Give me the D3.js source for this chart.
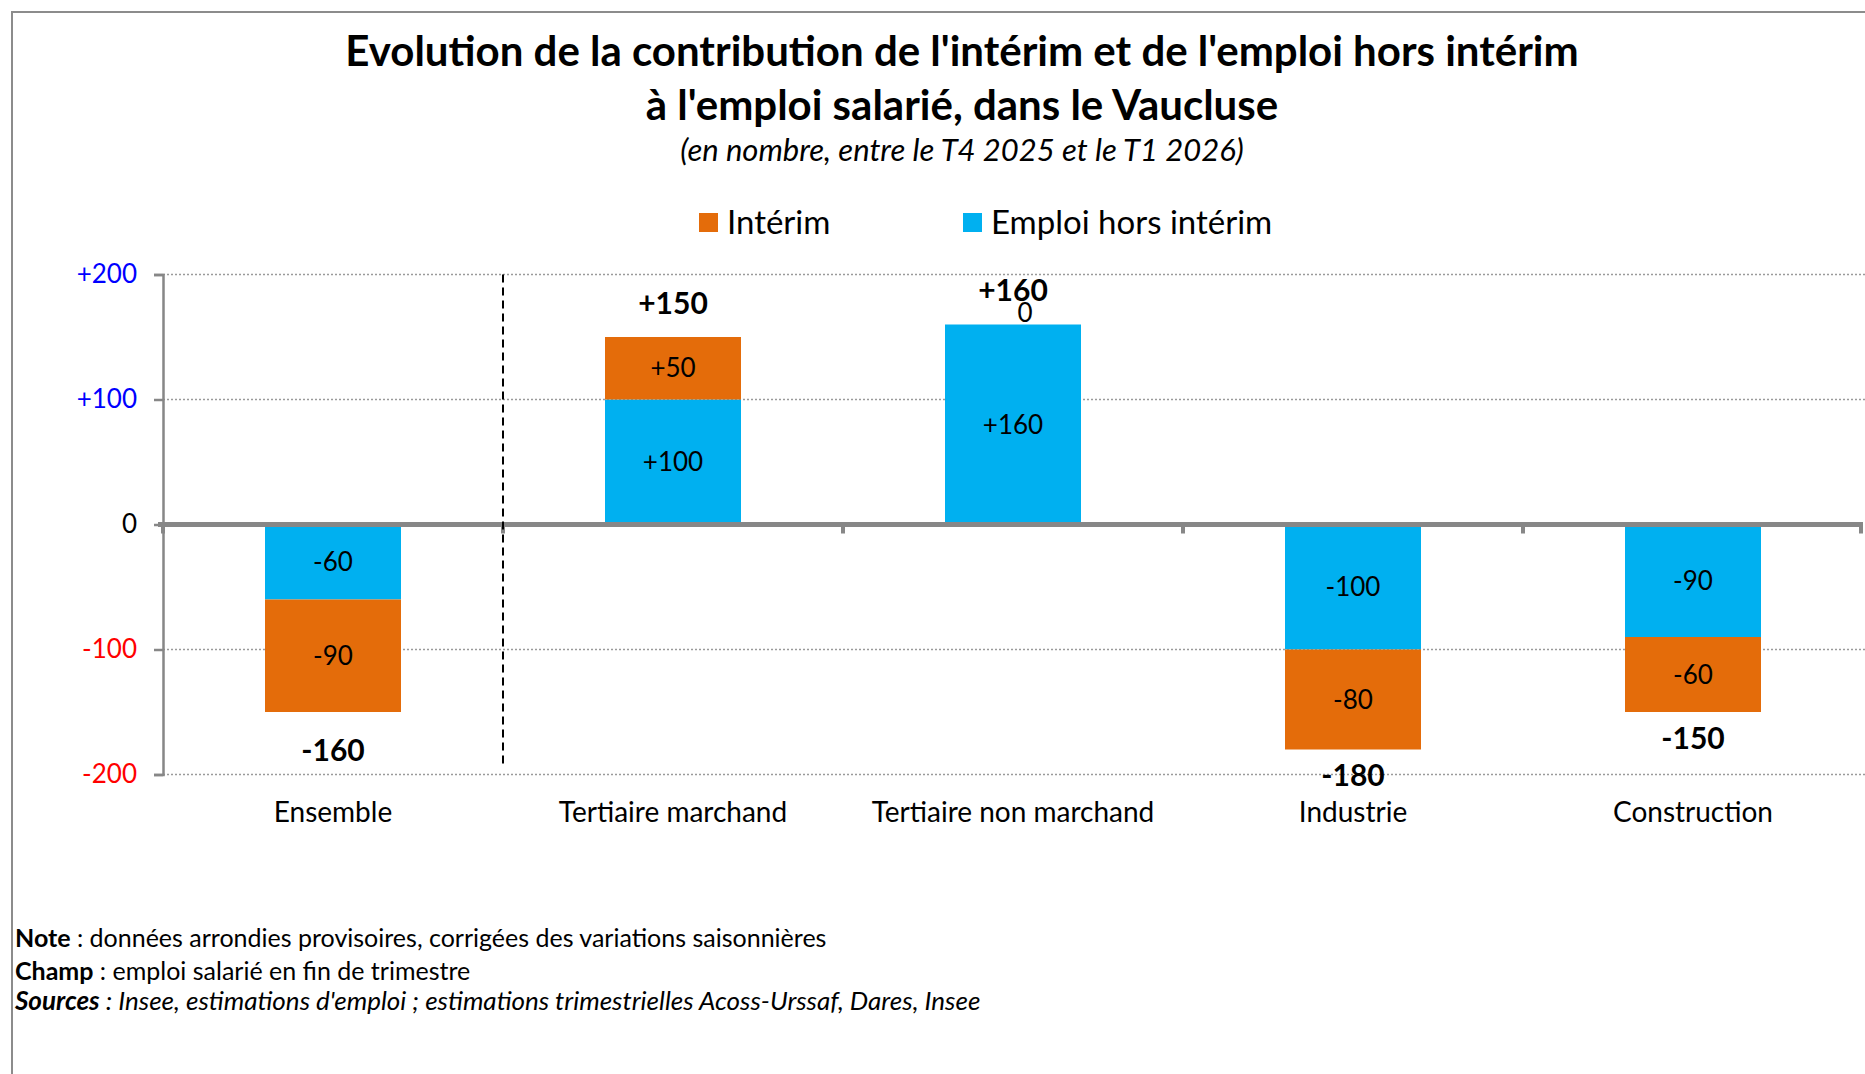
<!DOCTYPE html>
<html>
<head>
<meta charset="utf-8">
<script src="https://cdn.jsdelivr.net/npm/d3@7"></script>
<style>
  body { margin: 0; background: #fff; }
  text { font-family: Lato, "Open Sans", sans-serif; }
</style>
</head>
<body>
<div id="chart"></div>
<script>
// données
var categories = ["Ensemble", "Tertiaire marchand", "Tertiaire non marchand", "Industrie", "Construction"];
var horsInterim = [-60, 100, 160, -100, -90];
var interim = [-90, 50, 0, -80, -60];
var totals = [-160, 150, 160, -180, -150];
var yTicks = [-200, -100, 0, 100, 200];
var seriesNames = ["Intérim", "Emploi hors intérim"];

var W = 1865, H = 1074;
var orange = "#e46c0a", blue = "#00b0f0", grey = "#878787";

function fmt(v) {
    return v > 0 ? "+" + v : "" + v;
}

var svg = d3.select("#chart")
    .append("svg")
    .attr("width", W)
    .attr("height", H);

svg.append("rect").attr("width", W).attr("height", H).attr("fill", "#fff");

// cadre
svg.append("path")
    .attr("d", "M12," + H + "V12H" + W)
    .attr("fill", "none")
    .attr("stroke", "#8c8c8c")
    .attr("stroke-width", 2);

// titres
svg.append("text")
    .attr("x", 962).attr("y", 51).attr("dy", "0.35em")
    .attr("text-anchor", "middle")
    .style("font-size", "42px").style("font-weight", "bold")
    .text("Evolution de la contribution de l'intérim et de l'emploi hors intérim");
svg.append("text")
    .attr("x", 962).attr("y", 105).attr("dy", "0.35em")
    .attr("text-anchor", "middle")
    .style("font-size", "42px").style("font-weight", "bold")
    .text("à l'emploi salarié, dans le Vaucluse");
svg.append("text")
    .attr("x", 962).attr("y", 150).attr("dy", "0.35em")
    .attr("text-anchor", "middle")
    .style("font-size", "31px").style("font-style", "italic")
    .text("(en nombre, entre le T4 2025 et le T1 2026)");

// légende
var legend = svg.append("g");
var legX = [699, 963];
[orange, blue].forEach(function(c, i) {
    legend.append("rect")
        .attr("x", legX[i]).attr("y", 213)
        .attr("width", 19).attr("height", 19)
        .attr("fill", c);
    legend.append("text")
        .attr("x", legX[i] + 28).attr("y", 222).attr("dy", "0.35em")
        .style("font-size", "33px")
        .text(seriesNames[i]);
});

// échelles
var x = d3.scaleBand()
    .domain(categories)
    .range([163, 1863])
    .paddingInner(0.6)
    .paddingOuter(0.3);

var y = d3.scaleLinear()
    .domain([-200, 200])
    .range([774.5, 274.5]);

// quadrillage
svg.append("g")
    .selectAll("line")
    .data(yTicks.filter(function(t) { return t !== 0; }))
    .enter().append("line")
    .attr("x1", 163).attr("x2", W)
    .attr("y1", function(d) { return y(d); })
    .attr("y2", function(d) { return y(d); })
    .attr("stroke", "#9a9a9a")
    .attr("stroke-width", 1.5)
    .attr("stroke-dasharray", "2,2");

// axe des ordonnées
var yAxis = svg.append("g")
    .attr("transform", "translate(163,0)")
    .call(d3.axisLeft(y).tickValues(yTicks).tickSize(9).tickPadding(17).tickFormat(fmt));
yAxis.select(".domain").attr("stroke", grey).attr("stroke-width", 2.5);
yAxis.selectAll(".tick line").attr("stroke", grey).attr("stroke-width", 2.5);
yAxis.selectAll(".tick text")
    .style("font-size", "26px")
    .style("font-family", "Lato, sans-serif")
    .attr("fill", function(d) { return d > 0 ? "#0000ff" : d < 0 ? "#ff0000" : "#000"; });

// séries empilées
var rows = categories.map(function(c, i) {
    return { cat: c, hors: horsInterim[i], interim: interim[i] };
});
var stack = d3.stack().keys(["hors", "interim"]);
var layers = stack(rows);
var colors = { hors: blue, interim: orange };

var bars = svg.append("g");
layers.forEach(function(layer) {
    bars.selectAll(null)
        .data(layer)
        .enter().append("rect")
        .attr("x", function(d) { return x(d.data.cat); })
        .attr("width", x.bandwidth())
        .attr("y", function(d) { return y(Math.max(d[0], d[1])); })
        .attr("height", function(d) { return Math.abs(y(d[0]) - y(d[1])); })
        .attr("fill", colors[layer.key]);
});

// axe des abscisses (ligne du zéro)
var xAxis = svg.append("g")
    .attr("transform", "translate(0," + y(0) + ")")
    .call(d3.axisBottom(x).tickSize(0).tickFormat(""));
xAxis.select(".domain").remove();
xAxis.append("line")
    .attr("x1", 158).attr("x2", 1863)
    .attr("stroke", grey).attr("stroke-width", 5);
var bounds = categories.map(function(c) { return x(c) - x.step() * 0.3; }).concat([1861]);
xAxis.selectAll(".sep")
    .data(bounds)
    .enter().append("line")
    .attr("x1", function(d) { return d; })
    .attr("x2", function(d) { return d; })
    .attr("y1", 0).attr("y2", 9)
    .attr("stroke", grey).attr("stroke-width", 4);

// séparateur Ensemble
svg.append("line")
    .attr("x1", bounds[1]).attr("x2", bounds[1])
    .attr("y1", y(200)).attr("y2", 767)
    .attr("stroke", "#000")
    .attr("stroke-width", 2)
    .attr("stroke-dasharray", "8,5");

// étiquettes des catégories
svg.append("g")
    .selectAll("text")
    .data(categories)
    .enter().append("text")
    .attr("x", function(d) { return x(d) + x.bandwidth() / 2; })
    .attr("y", 812).attr("dy", "0.35em")
    .attr("text-anchor", "middle")
    .style("font-size", "28px")
    .text(function(d) { return d; });

// étiquettes des segments
layers.forEach(function(layer) {
    svg.append("g")
        .selectAll("text")
        .data(layer)
        .enter().append("text")
        .attr("x", function(d) {
            var zero = d[1] === d[0];
            return x(d.data.cat) + x.bandwidth() / 2 + (zero ? 12 : 0);
        })
        .attr("y", function(d) {
            var zero = d[1] === d[0];
            return y((d[0] + d[1]) / 2) - (zero ? 12 : 0);
        })
        .attr("dy", "0.35em")
        .attr("text-anchor", "middle")
        .style("font-size", "26px")
        .text(function(d) { return fmt(d[1] - d[0]); });
});

// totaux
svg.append("g")
    .selectAll("text")
    .data(totals)
    .enter().append("text")
    .attr("x", function(d, i) { return x(categories[i]) + x.bandwidth() / 2; })
    .attr("y", function(d) { return y(d) + (d > 0 ? -34 : 26); })
    .attr("dy", "0.35em")
    .attr("text-anchor", "middle")
    .style("font-size", "30px").style("font-weight", "bold")
    .text(fmt);

// notes
var notes = [
    { b: "Note", t: " : données arrondies provisoires, corrigées des variations saisonnières", it: false },
    { b: "Champ", t: " : emploi salarié en fin de trimestre", it: false },
    { b: "Sources", t: " : Insee, estimations d'emploi ; estimations trimestrielles Acoss-Urssaf, Dares, Insee", it: true }
];
var noteY = [938, 971, 1001];
notes.forEach(function(n, i) {
    var t = svg.append("text")
        .attr("x", 15).attr("y", noteY[i]).attr("dy", "0.35em")
        .style("font-size", n.it ? "26px" : "25px")
        .style("font-style", n.it ? "italic" : "normal");
    t.append("tspan").style("font-weight", "bold").text(n.b);
    t.append("tspan").text(n.t);
});
</script>
</body>
</html>
